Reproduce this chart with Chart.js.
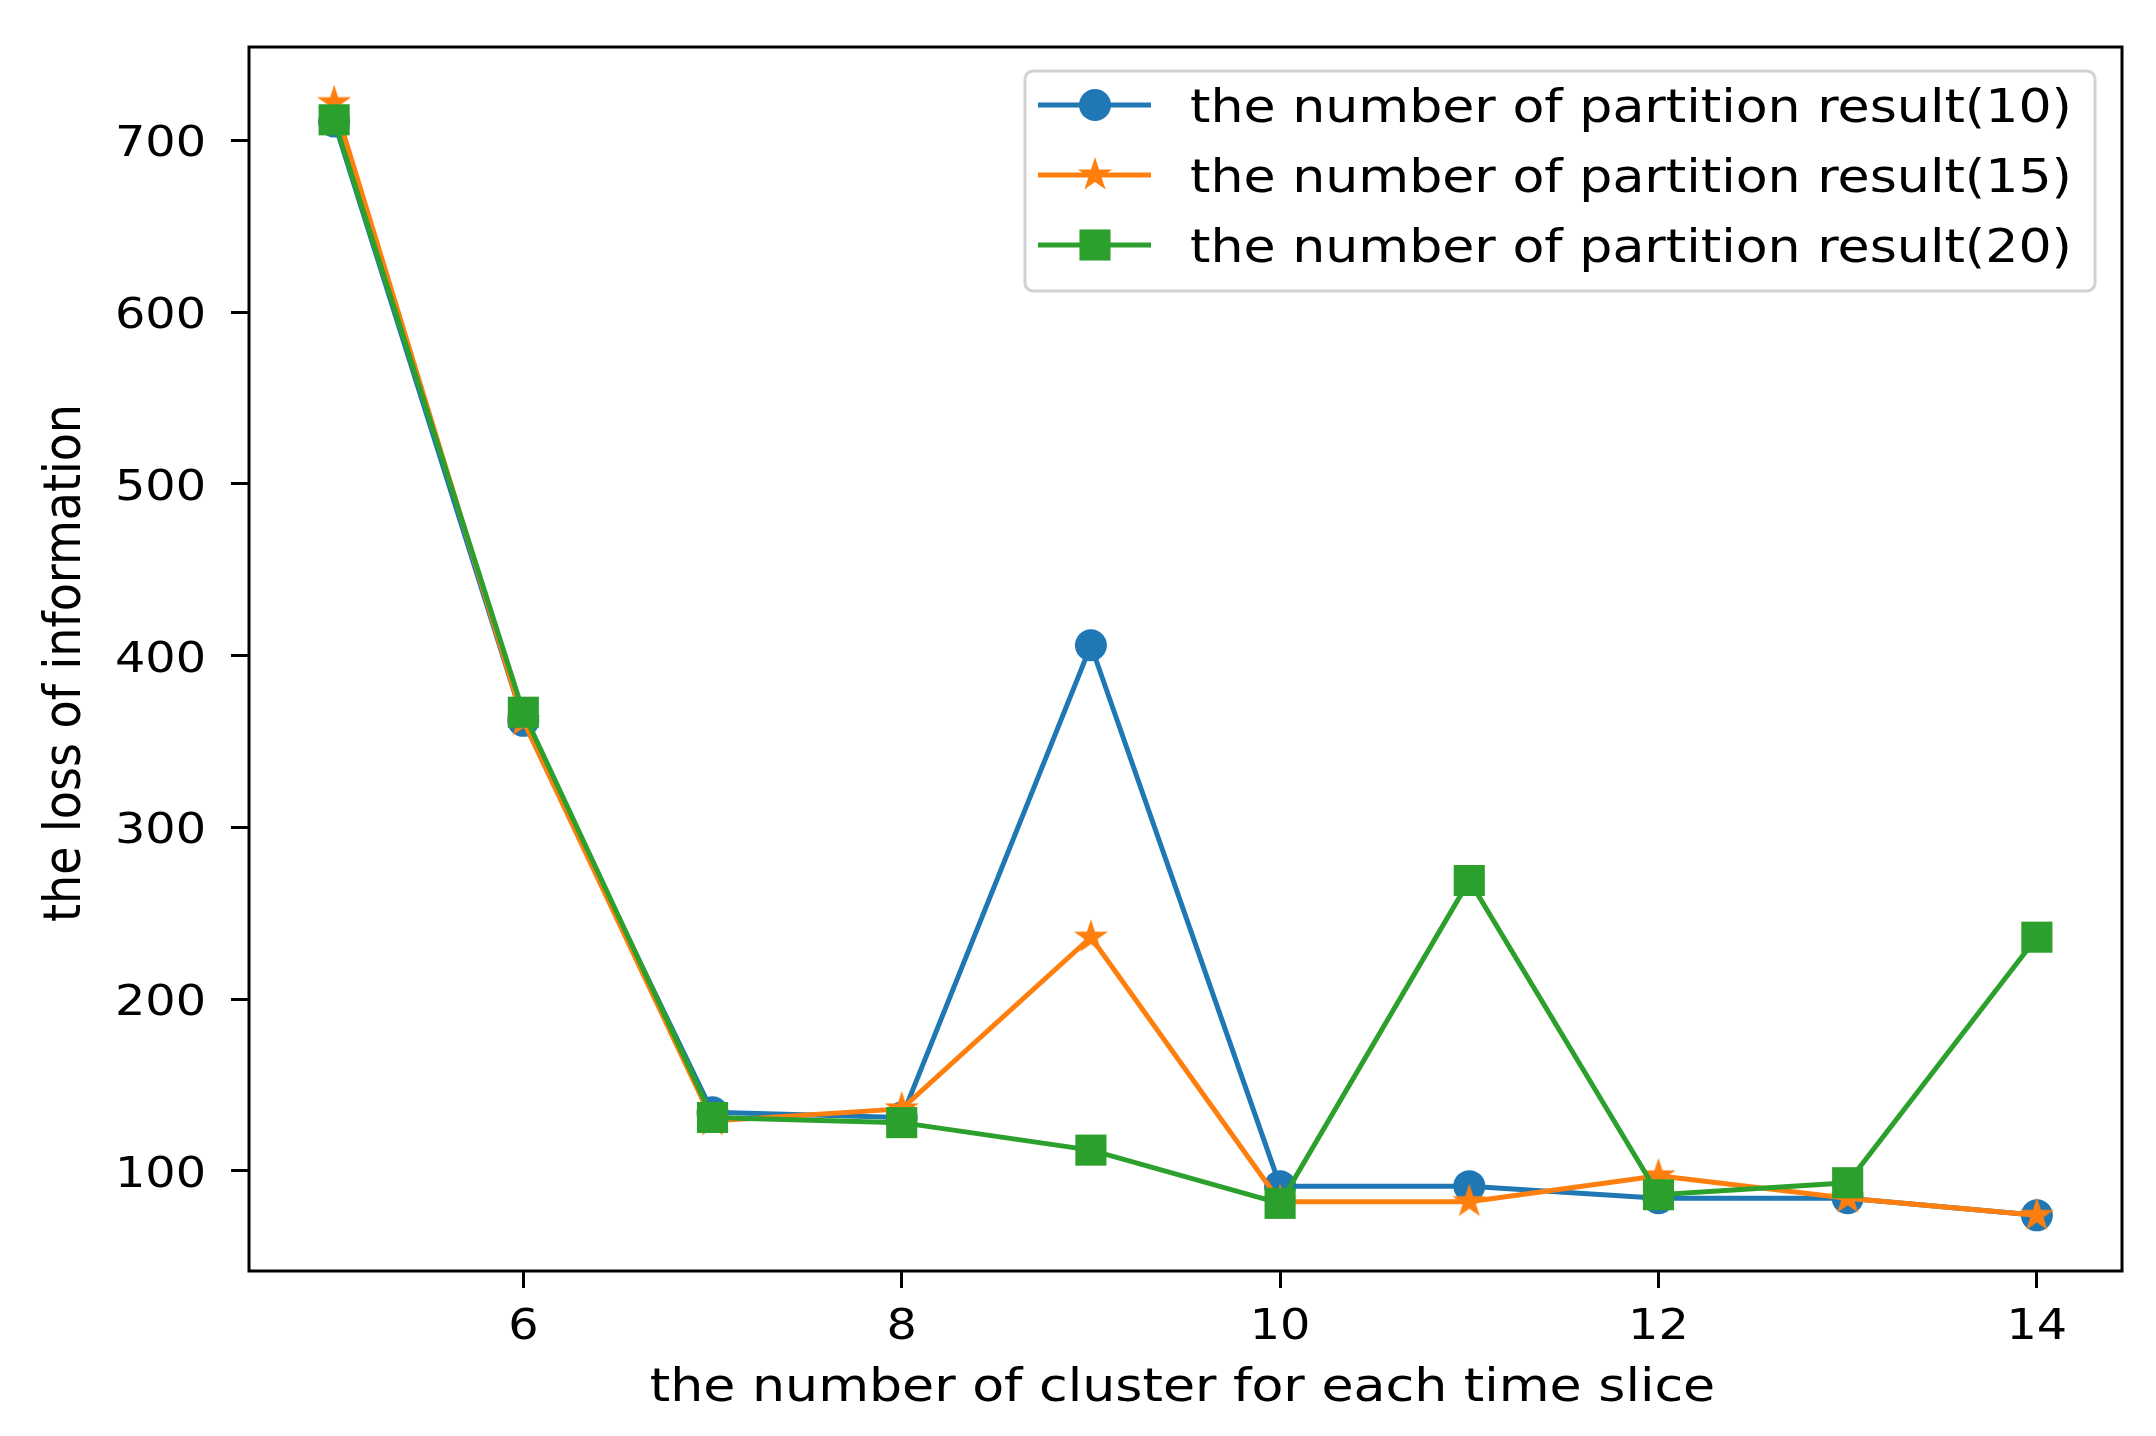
<!DOCTYPE html>
<html>
<head>
<meta charset="utf-8">
<script src="https://cdn.jsdelivr.net/npm/chart.js@4.4.0/dist/chart.umd.min.js"></script>
<style>
  html, body { margin: 0; padding: 0; background: #fff; }
  #wrap { width: 2156px; height: 1436px; }
</style>
</head>
<body>
<div id="wrap"><canvas id="lossChart" width="2156" height="1436"></canvas></div>
<script>
// data
const clusters = [5, 6, 7, 8, 9, 10, 11, 12, 13, 14];
const loss10 = [711, 362, 134, 131, 406, 91, 91, 84, 84, 74];
const loss15 = [722, 362, 129, 136, 236, 82, 82, 97, 84, 74];
const loss20 = [712, 367, 131, 128, 112, 81, 269, 86, 93, 236];
const seriesNames = [
    'the number of partition result(10)',
    'the number of partition result(15)',
    'the number of partition result(20)'
];
const xTicks = [6, 8, 10, 12, 14];
const yTicks = [100, 200, 300, 400, 500, 600, 700];
const xTitle = 'the number of cluster for each time slice';
const yTitle = 'the loss of information';

const FONT = '"DejaVu Sans"';
const SX = 1.11; // the picture is a bit wider than tall, text too
const BLUE = '#1f77b4', ORANGE = '#ff7f0e', GREEN = '#2ca02c';

// filled five point star, like matplotlib '*'
function makeStar(color, r) {
    const c = document.createElement('canvas');
    c.width = c.height = r * 2 + 2;
    const g = c.getContext('2d');
    const cx = r + 1, cy = r + 1, inner = r * 0.382;
    g.beginPath();
    for (let i = 0; i < 10; i++) {
        const rad = i % 2 === 0 ? r : inner;
        const a = -Math.PI / 2 + i * Math.PI / 5;
        const px = cx + rad * Math.cos(a), py = cy + rad * Math.sin(a);
        if (i === 0) g.moveTo(px, py); else g.lineTo(px, py);
    }
    g.closePath();
    g.fillStyle = color;
    g.fill();
    return c;
}
const starImg = makeStar(ORANGE, 18);

function toPoints(ys) {
    return clusters.map((x, i) => ({ x: x, y: ys[i] }));
}

function stretchedText(ctx, txt, x, y, align, size) {
    ctx.save();
    ctx.translate(x, y);
    ctx.scale(SX, 1);
    ctx.font = size + 'px ' + FONT;
    ctx.textAlign = align;
    ctx.textBaseline = 'alphabetic';
    ctx.fillStyle = '#000';
    ctx.fillText(txt, 0, 0);
    ctx.restore();
}

// tick labels and axis titles, placed from the library's scales
const axisText = {
    id: 'axisText',
    afterDraw(chart) {
        const ctx = chart.ctx;
        const xs = chart.scales.x, ys = chart.scales.y;
        xs.ticks.forEach(t => {
            stretchedText(ctx, String(t.value), xs.getPixelForValue(t.value), 1339, 'center', 43);
        });
        ys.ticks.forEach(t => {
            stretchedText(ctx, String(t.value), 206, ys.getPixelForValue(t.value) + 16, 'right', 43);
        });
        stretchedText(ctx, xTitle, (chart.chartArea.left + chart.chartArea.right) / 2 - 3, 1401, 'center', 47);
        ctx.save();
        ctx.translate(80, 663);
        ctx.rotate(-Math.PI / 2);
        ctx.scale(1, SX);
        ctx.font = '46px ' + FONT;
        ctx.textAlign = 'center';
        ctx.textBaseline = 'alphabetic';
        ctx.fillStyle = '#000';
        ctx.fillText(yTitle, 0, 0);
        ctx.restore();
    }
};

// legend inside the axes, top right, like matplotlib
const boxLegend = {
    id: 'boxLegend',
    afterDraw(chart) {
        const ctx = chart.ctx;
        const x0 = 1025, y0 = 71, w = 1070, h = 220;
        ctx.save();
        ctx.fillStyle = 'rgba(255,255,255,0.8)';
        ctx.strokeStyle = '#d2d2d2';
        ctx.lineWidth = 3;
        ctx.beginPath();
        ctx.roundRect(x0, y0, w, h, 8);
        ctx.fill();
        ctx.stroke();
        const rows = [105, 175, 245];
        chart.data.datasets.forEach((ds, k) => {
            const y = rows[k];
            ctx.strokeStyle = ds.borderColor;
            ctx.lineWidth = ds.borderWidth;
            ctx.beginPath();
            ctx.moveTo(1038, y);
            ctx.lineTo(1151, y);
            ctx.stroke();
            ctx.fillStyle = ds.pointBackgroundColor;
            if (ds.pointStyle === 'circle') {
                ctx.beginPath();
                ctx.arc(1095, y, ds.pointRadius, 0, Math.PI * 2);
                ctx.fill();
            } else if (ds.pointStyle === 'rect') {
                const s = ds.pointRadius * Math.SQRT1_2;
                ctx.fillRect(1095 - s, y - s, 2 * s, 2 * s);
            } else {
                const img = ds.pointStyle;
                ctx.drawImage(img, 1095 - img.width / 2, y - img.height / 2);
            }
            stretchedText(ctx, ds.label, 1190, y + 17, 'left', 47);
        });
        ctx.restore();
    }
};

// full black frame round the plot
const frame = {
    id: 'frame',
    afterDatasetsDraw(chart) {
        const a = chart.chartArea;
        const ctx = chart.ctx;
        ctx.save();
        ctx.strokeStyle = '#000';
        ctx.lineWidth = 3;
        ctx.strokeRect(a.left, a.top, a.right - a.left, a.bottom - a.top);
        ctx.restore();
    }
};

const ctx = document.getElementById('lossChart').getContext('2d');
new Chart(ctx, {
    type: 'line',
    data: {
        datasets: [
            {
                label: seriesNames[0],
                data: toPoints(loss10),
                borderColor: BLUE,
                backgroundColor: BLUE,
                pointBackgroundColor: BLUE,
                pointBorderWidth: 0,
                pointStyle: 'circle',
                pointRadius: 16,
                borderWidth: 5,
                order: 2
            },
            {
                label: seriesNames[1],
                data: toPoints(loss15),
                borderColor: ORANGE,
                backgroundColor: ORANGE,
                pointBackgroundColor: ORANGE,
                pointBorderWidth: 0,
                pointStyle: starImg,
                pointRadius: 18,
                borderWidth: 5,
                order: 1
            },
            {
                label: seriesNames[2],
                data: toPoints(loss20),
                borderColor: GREEN,
                backgroundColor: GREEN,
                pointBackgroundColor: GREEN,
                pointBorderWidth: 0,
                pointStyle: 'rect',
                pointRadius: 22,
                borderWidth: 5,
                order: 0
            }
        ]
    },
    options: {
        responsive: false,
        animation: false,
        events: [],
        layout: { padding: { top: 47, right: 34, left: 0, bottom: 0 } },
        plugins: {
            legend: { display: false },
            tooltip: { enabled: false }
        },
        scales: {
            x: {
                type: 'linear',
                min: 4.55,
                max: 14.45,
                afterBuildTicks: s => { s.ticks = xTicks.map(v => ({ value: v })); },
                afterFit: s => { s.height = 165; },
                grid: { drawOnChartArea: false, color: '#000', tickLength: 17, tickWidth: 3 },
                border: { display: false },
                ticks: { display: false }
            },
            y: {
                min: 41.6,
                max: 754.4,
                afterBuildTicks: s => { s.ticks = yTicks.map(v => ({ value: v })); },
                afterFit: s => { s.width = 249; },
                grid: { drawOnChartArea: false, color: '#000', tickLength: 18, tickWidth: 3 },
                border: { display: false },
                ticks: { display: false }
            }
        }
    },
    plugins: [frame, boxLegend, axisText]
});
</script>
</body>
</html>
